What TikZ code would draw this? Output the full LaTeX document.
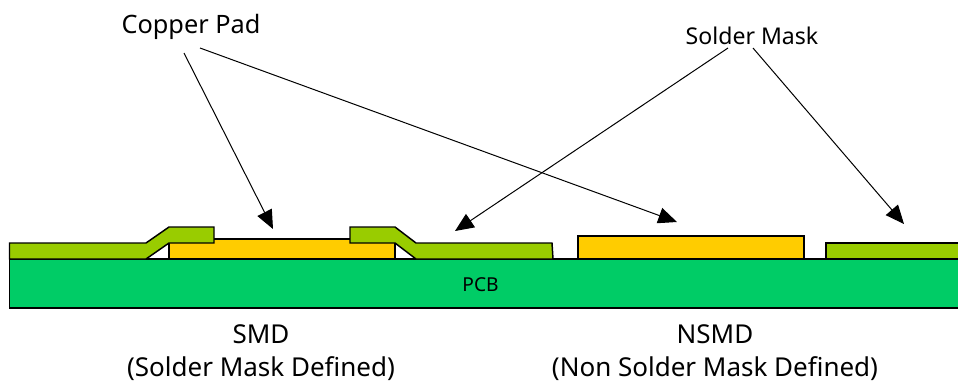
\documentclass[tikz,border=0pt]{standalone}
\usepackage{fontspec}
\setmainfont{Noto Sans}
\usetikzlibrary{positioning}
\usetikzlibrary{arrows.meta}
\definecolor{board}{RGB}{0,204,102}
\definecolor{mask}{RGB}{153,204,0}
\definecolor{pad}{RGB}{255,204,0}

\begin{document}
\begin{tikzpicture}[
    x=0.75pt, y=-0.75pt,
    o/.style={
        draw=black, line width=1.1pt, line join=miter
    },
    b/.style={
        o, inner sep=0pt, outer sep=0pt, anchor=north west
    },
    l/.style={
        line width=0.75pt, color=black,
        -{Triangle[length=14pt,width=12pt]}
    },
    t/.style={
        font=\fontsize{19.5pt}{24.5pt}\selectfont, align=center, inner sep=0pt
    }
]

    \useasboundingbox (0, 0) rectangle (958, 383);

    \node [b, fill=board, minimum width=960*0.75pt, minimum height=49*0.75pt] (pcb) at (9.5, 259) {};
    \node [font=\fontsize{14.4pt}{17pt}\selectfont, inner sep=0pt] (pcbtext) at (480.5, 285) {PCB};

    \node [b, fill=pad, minimum width=226*0.75pt, minimum height=20*0.75pt] (pad1) at (169, 239) {};
    \node [b, fill=pad, minimum width=226*0.75pt, minimum height=23*0.75pt] (pad2) at (578, 236) {};
    \node [b, fill=mask, minimum width=140*0.75pt, minimum height=16*0.75pt] (mask3) at (826, 243) {};

    % mask running up onto the pad
    \draw [o, fill=mask] (9.5, 243) -- (146, 243) -- (169, 227) -- (214, 227) -- (214, 243)
        -- (169, 243) -- (146, 259) -- (9.5, 259) -- cycle;
    \draw [o, fill=mask] (552, 243) -- (416, 243) -- (395, 227) -- (350, 227) -- (350, 243)
        -- (395, 243) -- (416, 259) -- (553, 259) -- cycle;

    \node [t, anchor=base, font=\fontsize{19pt}{23pt}\selectfont] (copper) at (191, 33) {Copper Pad};
    \node [t, anchor=base, font=\fontsize{17.3pt}{21pt}\selectfont] (solder) at (752, 44) {Solder Mask};
    \node [t] (smd) at (261, 352.5) {SMD\\(Solder Mask Defined)};
    \node [t] (nsmd) at (715, 352.5) {NSMD\\(Non Solder Mask Defined)};

    \coordinate (c1) at (184, 53);
    \coordinate (c2) at (200, 48);
    \coordinate (s1) at (728, 48);
    \coordinate (s2) at (753, 48);
    \coordinate (tip1) at (273, 229);
    \coordinate (tip2) at (677, 222);
    \coordinate (tip3) at (455, 231);
    \coordinate (tip4) at (904, 224);

    \draw (c1) -- (tip1) [l];
    \draw (c2) -- (tip2) [l];
    \draw (s1) -- (tip3) [l];
    \draw (s2) -- (tip4) [l];

\end{tikzpicture}
\end{document}
